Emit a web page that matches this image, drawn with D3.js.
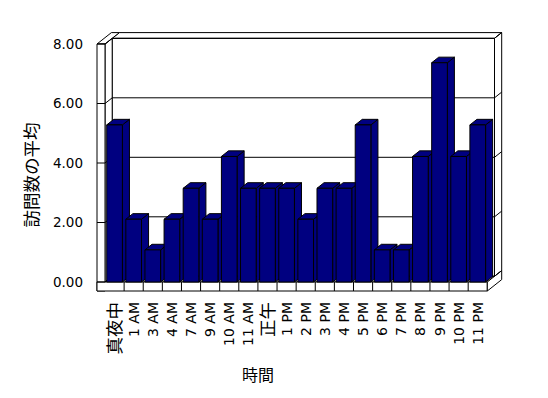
<!DOCTYPE html>
<html>
<head>
<meta charset="utf-8">
<script src="https://cdn.jsdelivr.net/npm/d3@7"></script>
<style>
  html, body { margin: 0; padding: 0; background: #fff; }
  svg { display: block; }
  text { font-family: "DejaVu Sans", "Noto Sans CJK JP", sans-serif; fill: #000; }
</style>
</head>
<body>
<div id="chart"></div>
<script>
// ---- data ----
const categories = ["真夜中", "1 AM", "3 AM", "4 AM", "7 AM", "9 AM", "10 AM", "11 AM", "正午",
  "1 PM", "2 PM", "3 PM", "4 PM", "5 PM", "6 PM", "7 PM", "8 PM", "9 PM", "10 PM", "11 PM"];
const values = [5.28, 2.11, 1.08, 2.11, 3.15, 2.11, 4.22, 3.15, 3.15,
  3.15, 2.11, 3.15, 3.15, 5.28, 1.08, 1.08, 4.22, 7.37, 4.22, 5.28];
const yTicks = [0, 2, 4, 6, 8];
const yTickLabels = ["0.00", "2.00", "4.00", "6.00", "8.00"];
const xTitle = "時間";
const yTitle = "訪問数の平均";

// ---- layout ----
const W = 548, H = 398;
const svg = d3.select("#chart").append("svg").attr("width", W).attr("height", H);
svg.append("rect").attr("width", W).attr("height", H).attr("fill", "#fff");

const x = d3.scaleBand().domain(categories).range([105, 487.3]);
const y = d3.scaleLinear().domain([0, 8]).range([282, 44]);
const DX = 7.2, DY = -5.7;       // depth vector (front plane -> back wall front)
const wallX0 = 97;              // left wall outer edge
const floorBottom = 291;        // floor slab bottom
const xL = x.range()[0], xR = x.range()[1];

const P = (X, Y, Z) => [X + Z * DX, Y + Z * DY];
const poly = (pts, fill) => svg.append("polygon")
  .attr("points", pts.map(p => p.join(",")).join(" "))
  .attr("fill", fill).attr("stroke", "#000").attr("stroke-width", 1)
  .attr("stroke-linejoin", "miter");
const line = (a, b) => svg.append("line")
  .attr("x1", a[0]).attr("y1", a[1]).attr("x2", b[0]).attr("y2", b[1])
  .attr("stroke", "#000").attr("stroke-width", 1);

const yTop = y(8), y0 = y(0);

poly([P(xL, yTop, 1), P(xR, yTop, 1), P(xR, y0, 1), P(xL, y0, 1)], "#fff");
poly([P(xL, yTop, 1), P(xR, yTop, 1), P(xR, yTop, 2), P(xL, yTop, 2)], "#fff");
poly([P(xR, yTop, 1), P(xR, yTop, 2), P(xR, y0, 2), P(xR, y0, 1)], "#fff");
poly([P(xL, yTop, 0), P(xL, yTop, 1), P(xL, y0, 1), P(xL, y0, 0)], "#fff");
poly([P(wallX0, yTop, 0), P(xL, yTop, 0), P(xL, yTop, 2), P(wallX0, yTop, 2)], "#fff");
poly([P(wallX0, yTop, 0), P(xL, yTop, 0), P(xL, floorBottom, 0), P(wallX0, floorBottom, 0)], "#fff");
poly([P(xL, y0, 0), P(xR, y0, 0), P(xR, y0, 1), P(xL, y0, 1)], "#fff");
poly([P(wallX0, y0, 0), P(xR, y0, 0), P(xR, floorBottom, 0), P(wallX0, floorBottom, 0)], "#fff");
poly([P(xR, y0, 0), P(xR, y0, 2), P(xR, floorBottom, 2), P(xR, floorBottom, 0)], "#fff");

yTicks.forEach(t => {
  const yy = y(t);
  line(P(xL, yy, 1), P(xR, yy, 1));
  line(P(xL, yy, 0), P(xL, yy, 1));
  line(P(wallX0, yy, 0), P(xL, yy, 0));
  line(P(xR, yy, 1), P(xR, yy, 2));
});
categories.forEach((c, i) => { if (i > 0) line([x(c), y0], [x(c), floorBottom]); });

const bw = x.bandwidth();
const barOff = bw * 0.09, barW = bw * 0.82;
const barFill = "#000080";
categories.forEach((c, i) => {
  const X0 = x(c) + barOff, X1 = X0 + barW, Yt = y(values[i]), Yb = y(0);
  const zb = 0.98;
  poly([P(X1, Yt, 0), P(X1, Yt, zb), P(X1, Yb, zb), P(X1, Yb, 0)], barFill);
  poly([P(X0, Yt, 0), P(X1, Yt, 0), P(X1, Yt, zb), P(X0, Yt, zb)], barFill);
  poly([P(X0, Yt, 0), P(X1, Yt, 0), P(X1, Yb, 0), P(X0, Yb, 0)], barFill);
});

svg.append("g").selectAll("text").data(yTicks).join("text")
  .attr("x", 83).attr("y", d => y(d)).attr("dy", "0.36em")
  .attr("text-anchor", "end").attr("font-size", 13.5)
  .text((d, i) => yTickLabels[i]);

const isCJK = s => /[\u3000-\u9fff]/.test(s);
svg.append("g").selectAll("text").data(categories).join("text")
  .attr("transform", d => `translate(${x(d) + bw / 2},302) rotate(-90)`)
  .attr("dy", "0.36em").attr("text-anchor", "end")
  .attr("font-size", d => isCJK(d) ? 17.5 : 14)
  .text(d => d);

svg.append("text").attr("x", 258).attr("y", 375).attr("dy", "0.36em")
  .attr("text-anchor", "middle").attr("font-size", 16).text(xTitle);
svg.append("text").attr("transform", "translate(32,175) rotate(-90)")
  .attr("dy", "0.36em").attr("text-anchor", "middle").attr("font-size", 17.5).text(yTitle);
</script>
</body>
</html>
